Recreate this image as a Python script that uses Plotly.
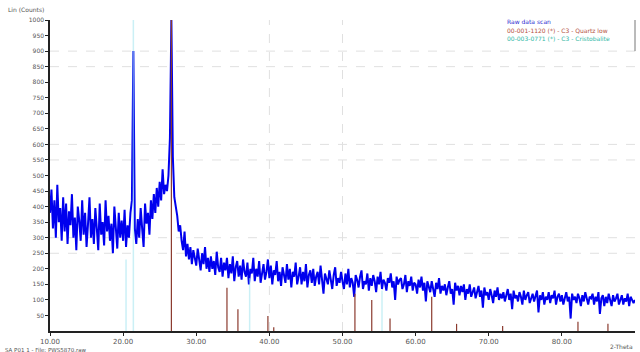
import plotly.graph_objects as go

# ---- data ----
two_theta_start = 10.0
two_theta_step = 0.2
counts = [
    380, 455, 330, 420, 300, 470, 350, 395, 290, 430,   # 10.0
    320, 410, 280, 385, 340, 440, 300, 365, 260, 400,   # 12.0
    355, 290, 420, 310, 380, 270, 345, 430, 300, 360,   # 14.0
    280, 395, 330, 260, 410, 310, 350, 275, 420, 320,   # 16.0
    370, 290, 345, 250, 400, 320, 265, 380, 300, 355,   # 18.0
    290, 390, 270, 340, 300, 380, 420, 900, 330, 280,   # 20.0
    360, 300, 395, 330, 270, 410, 345, 380, 310, 420,   # 22.0
    360, 440, 380, 460, 400, 480, 420, 520, 440, 470,   # 24.0
    450, 500, 620, 1000, 560, 430, 400, 370, 320, 340,  # 26.0
    290, 260, 320, 240, 280, 230, 270, 215, 260, 240,   # 28.0
    210, 265, 230, 195, 250, 215, 270, 200, 235, 190,   # 30.0
    240, 200, 225, 180, 255, 205, 190, 235, 175, 220,   # 32.0
    195, 235, 170, 215, 185, 240, 160, 205, 225, 175,   # 34.0
    210, 165, 230, 190, 175, 220, 150, 200, 185, 235,   # 36.0
    160, 200, 175, 225, 155, 195, 215, 165, 190, 230,   # 38.0
    170, 210, 150, 195, 180, 225, 160, 190, 145, 205,   # 40.0
    185, 155, 215, 165, 200, 140, 190, 175, 220, 150,   # 42.0
    175, 205, 150, 190, 160, 215, 140, 180, 195, 155,   # 44.0
    200, 145, 175, 190, 150, 210, 165, 120, 185, 170,   # 46.0
    150, 195, 165, 135, 180, 205, 145, 170, 155, 190,   # 48.0
    160, 135, 185, 150, 200, 140, 170, 155, 110, 180,   # 50.0
    165, 140, 175, 195, 135, 160, 150, 185, 130, 170,   # 52.0
    145, 180, 160, 125, 175, 150, 190, 135, 165, 155,   # 54.0
    130, 170, 155, 185, 140, 160, 100, 175, 150, 165,   # 56.0
    170, 135, 150, 180, 125, 160, 145, 175, 130, 155,   # 58.0
    150, 120, 165, 140, 175, 130, 155, 95, 160, 145,    # 60.0
    125, 160, 140, 110, 155, 135, 170, 120, 145, 130,   # 62.0
    150, 115, 140, 160, 120, 135, 85, 155, 130, 145,    # 64.0
    115, 145, 125, 150, 100, 135, 120, 150, 110, 130,   # 66.0
    140, 105, 125, 145, 110, 130, 75, 140, 115, 125,    # 68.0
    100, 135, 115, 90, 130, 110, 140, 100, 120, 105,    # 70.0
    125, 95, 115, 135, 100, 120, 70, 130, 105, 115,     # 72.0
    95, 125, 110, 85, 130, 100, 115, 125, 90, 110,      # 74.0
    120, 95, 110, 130, 60, 115, 100, 125, 85, 110,      # 76.0
    100, 125, 90, 115, 105, 130, 85, 110, 120, 95,      # 78.0
    115, 85, 105, 125, 95, 110, 40, 120, 100, 110,      # 80.0
    90, 120, 105, 80, 115, 95, 125, 100, 85, 110,       # 82.0
    105, 120, 85, 110, 95, 125, 55, 105, 115, 80,       # 84.0
    110, 90, 120, 100, 80, 115, 95, 105, 120, 85,       # 86.0
    100, 115, 85, 105, 95, 120, 80, 110, 100, 90,       # 88.0
    100,                                                # 90.0
]
two_theta = [round(two_theta_start + i * two_theta_step, 2) for i in range(len(counts))]

# reference pattern 1 (brown sticks)
phase1_pos = [26.6, 34.2, 35.7, 39.8, 40.6, 51.7, 54.0, 56.5, 62.2, 65.6, 71.9, 82.2, 86.3]
phase1_int = [1000, 139, 70, 48, 12, 120, 100, 40, 110, 23, 16, 30, 23]
# reference pattern 2 (cyan sticks)
phase2_pos = [20.4, 21.4, 37.3, 55.4]
phase2_int = [230, 1000, 170, 130]

y_ticks = list(range(50, 1001, 50))
x_ticks = [10, 20, 30, 40, 50, 60, 70, 80]
grid_y = [250, 300, 550, 600, 850, 900]
grid_x = [40, 50]

legend_lines = ["Raw data scan",
                "00-001-1120 (*) - C3 - Quartz low",
                "00-003-0771 (*) - C3 - Cristobalite"]
legend_colors = ["#2a2ad0", "#b4503c", "#2fb8a6"]


def sticks(pos, inten):
    xs, ys = [], []
    for p, h in zip(pos, inten):
        xs += [p, p, None]
        ys += [0, h, None]
    return xs, ys


fig = go.Figure()
fig.add_trace(go.Scatter(x=two_theta, y=counts, mode="lines",
                         line=dict(color="#0000ee", width=2), hoverinfo="skip"))
sx, sy = sticks(phase2_pos, phase2_int)
fig.add_trace(go.Scatter(x=sx, y=sy, mode="lines",
                         line=dict(color="rgba(160,228,238,0.55)", width=1.5)))
sx, sy = sticks(phase1_pos, phase1_int)
fig.add_trace(go.Scatter(x=sx, y=sy, mode="lines",
                         line=dict(color="#8b3a2e", width=1.2)))

shapes = []
for g in grid_y:
    shapes.append(dict(type="line", xref="paper", x0=0, x1=1, yref="y", y0=g, y1=g,
                       line=dict(color="#e0e0e0", width=1, dash="dash"), layer="below"))
for g in grid_x:
    shapes.append(dict(type="line", xref="x", x0=g, x1=g, yref="paper", y0=0, y1=1,
                       line=dict(color="#e0e0e0", width=1, dash="dash"), layer="below"))
shapes.append(dict(type="line", xref="paper", x0=1, x1=1, yref="paper", y0=0.9, y1=1.0,
                   line=dict(color="#777777", width=1)))

annotations = []
ly = [0.994, 0.965, 0.939]
for t, c, y in zip(legend_lines, legend_colors, ly):
    annotations.append(dict(text=t, xref="paper", yref="paper", x=0.778, y=y,
                            xanchor="left", yanchor="middle", showarrow=False,
                            font=dict(size=6, color=c, family="DejaVu Sans")))
annotations.append(dict(text="Lin (Counts)", xref="paper", yref="paper", x=-0.075, y=1.035,
                        xanchor="left", yanchor="middle", showarrow=False,
                        font=dict(size=6, color="#555555", family="DejaVu Sans")))
annotations.append(dict(text="SA P01 1 - File: PWS5870.raw", xref="paper", yref="paper",
                        x=-0.08, y=-0.06, xanchor="left", yanchor="middle", showarrow=False,
                        font=dict(size=5.5, color="#555555", family="DejaVu Sans")))
annotations.append(dict(text="2-Theta", xref="paper", yref="paper", x=1.0, y=-0.05,
                        xanchor="right", yanchor="middle", showarrow=False,
                        font=dict(size=6, color="#555555", family="DejaVu Sans")))

fig.update_layout(
    width=640, height=352,
    margin=dict(l=50, r=5, t=20, b=21),
    paper_bgcolor="white", plot_bgcolor="white",
    showlegend=False,
    shapes=shapes, annotations=annotations,
    xaxis=dict(range=[10, 90], tickvals=x_ticks, tickformat=".2f",
               showgrid=False, zeroline=False, showline=True, linecolor="#222222", linewidth=1.5,
               ticks="outside", ticklen=3, tickcolor="#222222",
               tickfont=dict(size=7, color="#555555", family="DejaVu Sans")),
    yaxis=dict(range=[0, 1000], tickvals=y_ticks,
               showgrid=False, zeroline=False, showline=True, linecolor="#222222", linewidth=1.5,
               ticks="outside", ticklen=3, tickcolor="#222222",
               tickfont=dict(size=6, color="#555555", family="DejaVu Sans")),
)

fig.write_html("out.html", config={"displayModeBar": False},
               post_script="document.body.style.margin='0';document.body.style.overflow='hidden';")
